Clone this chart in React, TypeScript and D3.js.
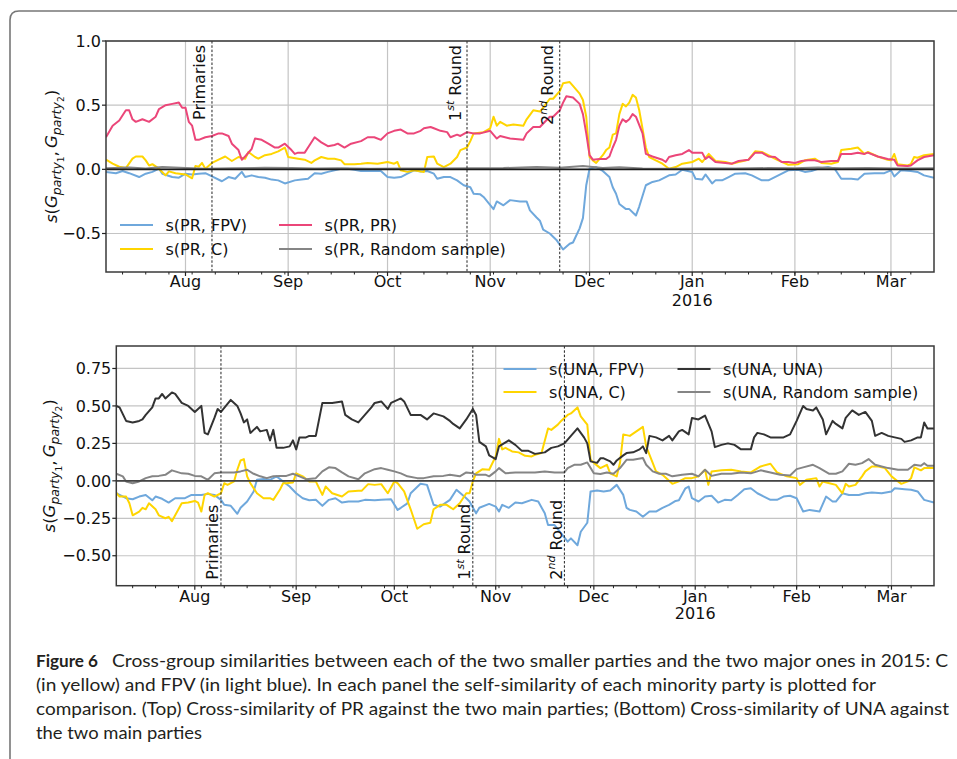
import React, { useEffect, useRef } from 'react';
import * as d3 from 'd3';

type Pt = [number, number];

// days are counted from START
const START = new Date(2015, 6, 8);
const END = new Date(2016, 2, 14);

const eventDates = [new Date(2015, 7, 9), new Date(2015, 9, 25), new Date(2015, 10, 22)];
const eventLabels = ['Primaries', '1', '2'];
const eventSups = ['', 'st', 'nd'];

const topLegend = ['s(PR, FPV)', 's(PR, C)', 's(PR, PR)', 's(PR, Random sample)'];
const botLegend = ['s(UNA, FPV)', 's(UNA, C)', 's(UNA, UNA)', 's(UNA, Random sample)'];
const topColors = ['#6fa8dc', '#ffd500', '#eb4679', '#858585'];
const botColors = ['#6fa8dc', '#ffd500', '#333333', '#858585'];

const topTicks = [-0.5, 0, 0.5, 1.0];
const botTicks = [-0.5, -0.25, 0, 0.25, 0.5, 0.75];

const topFpv: Pt[] = [[0,-0.02],[3,-0.03],[5,-0.013],[7,-0.03],[10,-0.06],[12,-0.034],[14,-0.02],[16,0.005],[17,-0.034],[20,-0.06],[22,-0.065],[24,-0.034],[26,-0.04],[28,-0.034],[30,-0.03],[32,-0.055],[35,-0.093],[37,-0.06],[39,-0.073],[41,-0.02],[42,-0.06],[44,-0.047],[46,-0.06],[48,-0.065],[50,-0.08],[52,-0.086],[54,-0.11],[57,-0.086],[59,-0.08],[61,-0.073],[63,-0.03],[65,-0.034],[67,-0.02],[69,-0.008],[71,0.005],[73,0.005],[75,-0.003],[77,-0.013],[79,-0.013],[83,-0.013],[85,-0.06],[87,-0.065],[89,-0.06],[91,-0.034],[93,-0.008],[95,-0.016],[97,-0.013],[99,-0.034],[100,-0.073],[102,-0.06],[104,-0.06],[106,-0.086],[108,-0.124],[110,-0.14],[111,-0.19],[113,-0.195],[114,-0.215],[117,-0.31],[118,-0.25],[120,-0.28],[122,-0.24],[125,-0.25],[127,-0.25],[128,-0.32],[130,-0.375],[131,-0.40],[132,-0.47],[134,-0.50],[136,-0.55],[138,-0.625],[140,-0.58],[141,-0.57],[143,-0.46],[144,-0.38],[145,-0.124],[146,0.005],[148,0.018],[150,-0.013],[152,-0.06],[153,-0.14],[154,-0.19],[155,-0.27],[157,-0.31],[158,-0.31],[160,-0.36],[161,-0.29],[163,-0.124],[165,-0.098],[167,-0.086],[170,-0.047],[172,-0.04],[174,-0.003],[177,-0.02],[178,-0.073],[180,-0.08],[181,-0.04],[183,-0.11],[184,-0.086],[186,-0.086],[188,-0.06],[190,-0.034],[193,-0.03],[195,-0.047],[198,-0.086],[200,-0.086],[203,-0.047],[206,-0.008],[209,-0.003],[211,-0.02],[213,-0.013],[215,0.005],[218,0.018],[220,0.005],[222,-0.073],[225,-0.073],[227,-0.08],[229,-0.034],[232,-0.03],[235,-0.03],[237,-0.008],[238,-0.055],[240,-0.008],[243,-0.013],[245,-0.02],[247,-0.047],[250,-0.065]];

const topC: Pt[] = [[0,0.075],[2,0.044],[4,0.02],[6,0.01],[8,0.083],[9,0.10],[11,0.10],[12,0.07],[13,0.03],[14,0.04],[16,0.005],[18,-0.047],[19,-0.016],[21,-0.03],[24,-0.04],[26,-0.07],[27,0.026],[28,0.02],[29,0.05],[30,0.005],[32,0.05],[34,0.075],[36,0.10],[38,0.065],[40,0.096],[42,0.083],[43,0.135],[45,0.096],[46,0.083],[48,0.11],[50,0.12],[52,0.14],[54,0.17],[55,0.096],[58,0.083],[60,0.075],[62,0.05],[63,0.07],[65,0.096],[67,0.083],[69,0.083],[71,0.07],[72,0.04],[75,0.04],[77,0.044],[79,0.05],[82,0.044],[85,0.057],[87,0.044],[88,0.057],[89,-0.008],[91,-0.02],[93,-0.008],[96,-0.02],[97,0.096],[99,0.10],[100,0.044],[102,0.018],[104,0.044],[106,0.096],[107,0.15],[109,0.17],[110,0.22],[111,0.28],[114,0.29],[116,0.32],[117,0.41],[118,0.34],[119,0.37],[121,0.34],[123,0.35],[126,0.34],[127,0.39],[129,0.46],[131,0.45],[132,0.48],[134,0.55],[135,0.55],[137,0.61],[138,0.67],[140,0.68],[141,0.65],[143,0.59],[144,0.54],[145,0.41],[146,0.096],[147,0.07],[148,0.05],[150,0.11],[151,0.15],[152,0.17],[153,0.27],[154,0.28],[155,0.43],[156,0.51],[157,0.49],[158,0.52],[159,0.58],[160,0.56],[161,0.46],[163,0.17],[164,0.096],[166,0.07],[168,0.044],[170,0.005],[172,0.018],[174,0.044],[177,0.057],[179,0.083],[180,0.057],[182,0.12],[184,0.065],[187,0.057],[189,0.044],[191,0.057],[194,0.075],[196,0.14],[198,0.135],[201,0.096],[203,0.07],[206,0.036],[209,0.04],[211,0.07],[214,0.083],[216,0.05],[219,0.044],[221,0.057],[222,0.15],[225,0.16],[227,0.17],[229,0.12],[230,0.135],[233,0.10],[236,0.075],[237,0.07],[238,0.12],[239,0.04],[242,0.03],[243,0.04],[244,0.096],[245,0.09],[247,0.11],[250,0.12]];

const topSelf: Pt[] = [[0,0.25],[2,0.34],[4,0.38],[6,0.46],[7,0.46],[8,0.39],[9,0.37],[11,0.39],[13,0.37],[15,0.41],[16,0.47],[18,0.50],[20,0.51],[22,0.52],[23,0.48],[24,0.48],[25,0.37],[26,0.34],[27,0.23],[28,0.23],[30,0.25],[32,0.26],[34,0.28],[35,0.28],[37,0.26],[38,0.20],[40,0.15],[41,0.075],[42,0.10],[44,0.16],[45,0.24],[47,0.23],[49,0.20],[51,0.17],[52,0.17],[54,0.20],[56,0.15],[57,0.12],[58,0.13],[60,0.13],[61,0.17],[63,0.25],[65,0.21],[67,0.18],[69,0.19],[70,0.20],[72,0.17],[74,0.20],[77,0.22],[79,0.25],[81,0.25],[83,0.23],[85,0.28],[87,0.30],[89,0.31],[91,0.28],[93,0.28],[95,0.30],[96,0.32],[98,0.33],[99,0.32],[101,0.30],[103,0.29],[104,0.25],[106,0.27],[107,0.26],[109,0.29],[111,0.28],[113,0.28],[116,0.30],[118,0.24],[119,0.26],[122,0.24],[126,0.23],[127,0.28],[129,0.33],[131,0.33],[134,0.41],[135,0.41],[137,0.46],[138,0.52],[139,0.57],[141,0.56],[143,0.51],[144,0.43],[145,0.28],[146,0.11],[147,0.075],[149,0.08],[151,0.08],[152,0.10],[153,0.17],[154,0.23],[155,0.34],[156,0.39],[157,0.37],[158,0.39],[159,0.43],[160,0.41],[162,0.28],[163,0.12],[165,0.10],[168,0.075],[169,0.057],[170,0.096],[172,0.11],[174,0.12],[176,0.15],[177,0.13],[180,0.13],[181,0.08],[182,0.10],[184,0.057],[187,0.05],[189,0.044],[191,0.065],[194,0.075],[196,0.13],[198,0.13],[200,0.10],[202,0.096],[204,0.057],[206,0.057],[208,0.05],[210,0.065],[212,0.07],[214,0.07],[216,0.057],[219,0.065],[221,0.065],[222,0.12],[225,0.12],[227,0.13],[229,0.12],[230,0.13],[233,0.10],[236,0.08],[238,0.075],[239,0.03],[242,0.026],[243,0.03],[245,0.07],[247,0.096],[250,0.11]];

const topRandom: Pt[] = [[0,0.008],[7,0.015],[12,0.006],[17,0.018],[24,0.01],[30,0.004],[38,0.008],[48,0.012],[56,0.01],[63,0.006],[70,0.008],[80,0.005],[90,0.007],[100,0.006],[110,0.008],[120,0.01],[130,0.018],[137,0.012],[144,0.026],[150,0.01],[155,0.016],[162,0.006],[170,0.004],[180,0.008],[190,0.006],[200,0.01],[208,0.008],[215,0.014],[222,0.008],[230,0.01],[240,0.006],[250,0.008]];

const botFpv: Pt[] = [[0,-0.083],[1,-0.094],[3,-0.116],[5,-0.123],[7,-0.105],[9,-0.094],[11,-0.13],[12,-0.105],[14,-0.12],[16,-0.145],[18,-0.116],[21,-0.116],[23,-0.094],[26,-0.094],[28,-0.087],[30,-0.094],[32,-0.127],[33,-0.16],[35,-0.167],[37,-0.22],[38,-0.18],[40,-0.138],[42,-0.071],[43,0.007],[45,0.013],[47,0.007],[49,0.03],[51,-0.004],[53,-0.038],[55,-0.083],[57,-0.116],[59,-0.13],[61,-0.127],[63,-0.167],[65,-0.127],[67,-0.116],[69,-0.145],[71,-0.138],[74,-0.138],[76,-0.127],[79,-0.13],[81,-0.127],[84,-0.123],[86,-0.194],[87,-0.18],[89,-0.15],[90,-0.083],[93,-0.02],[95,-0.027],[97,-0.16],[99,-0.172],[102,-0.127],[104,-0.06],[107,-0.116],[108,-0.138],[110,-0.217],[111,-0.18],[114,-0.154],[116,-0.172],[117,-0.205],[118,-0.16],[120,-0.18],[122,-0.145],[124,-0.15],[127,-0.127],[129,-0.138],[131,-0.217],[132,-0.295],[134,-0.295],[136,-0.35],[138,-0.406],[139,-0.384],[141,-0.43],[142,-0.34],[144,-0.28],[145,-0.071],[147,-0.065],[149,-0.071],[151,-0.065],[153,-0.027],[155,-0.094],[156,-0.18],[157,-0.194],[159,-0.205],[161,-0.24],[163,-0.205],[165,-0.205],[167,-0.18],[169,-0.16],[171,-0.134],[172,-0.13],[174,-0.05],[175,-0.038],[176,-0.116],[178,-0.138],[180,-0.105],[182,-0.10],[184,-0.145],[186,-0.127],[188,-0.13],[190,-0.094],[192,-0.056],[194,-0.05],[196,-0.083],[198,-0.105],[200,-0.127],[202,-0.127],[204,-0.105],[206,-0.10],[208,-0.116],[210,-0.205],[212,-0.194],[215,-0.205],[217,-0.105],[219,-0.138],[220,-0.138],[222,-0.083],[224,-0.094],[227,-0.094],[229,-0.083],[231,-0.078],[234,-0.083],[237,-0.071],[238,-0.05],[241,-0.056],[243,-0.06],[245,-0.071],[247,-0.127],[250,-0.145]];

const botC: Pt[] = [[0,-0.08],[1,-0.105],[3,-0.105],[4,-0.15],[5,-0.23],[7,-0.205],[8,-0.18],[9,-0.19],[10,-0.15],[12,-0.19],[13,-0.23],[15,-0.25],[16,-0.24],[17,-0.27],[18,-0.23],[20,-0.15],[22,-0.145],[24,-0.134],[25,-0.145],[26,-0.205],[27,-0.094],[28,-0.083],[30,-0.105],[32,-0.083],[33,-0.016],[34,-0.027],[36,-0.004],[37,0.074],[38,0.136],[39,0.145],[40,0.03],[41,-0.016],[43,-0.083],[45,-0.116],[47,-0.116],[48,-0.127],[50,-0.06],[51,-0.016],[52,-0.016],[54,-0.011],[55,0.05],[57,0.03],[59,-0.004],[61,-0.004],[63,-0.094],[64,-0.038],[66,-0.083],[69,-0.105],[71,-0.071],[74,-0.067],[75,-0.067],[77,-0.022],[79,-0.027],[81,-0.022],[83,-0.083],[85,-0.004],[86,-0.016],[88,-0.071],[90,-0.19],[92,-0.32],[94,-0.29],[96,-0.28],[97,-0.19],[99,-0.16],[101,-0.16],[103,-0.19],[105,-0.15],[107,-0.083],[108,-0.083],[109,-0.004],[110,0.05],[112,0.078],[114,0.074],[116,0.163],[117,0.28],[118,0.21],[119,0.22],[121,0.196],[123,0.19],[125,0.167],[127,0.163],[128,0.174],[130,0.185],[132,0.35],[133,0.34],[135,0.375],[136,0.40],[138,0.44],[139,0.45],[141,0.49],[142,0.43],[144,0.375],[145,0.14],[146,0.12],[148,0.085],[150,0.107],[151,0.05],[153,0.03],[154,0.12],[155,0.31],[157,0.30],[159,0.33],[161,0.36],[162,0.23],[164,0.12],[165,0.063],[167,0.04],[170,-0.02],[172,-0.004],[174,0.018],[176,0.018],[178,0.03],[180,0.074],[181,-0.027],[182,0.063],[185,0.07],[188,0.074],[191,0.063],[194,0.056],[197,0.096],[200,0.114],[202,0.056],[205,0.03],[208,0.018],[209,-0.027],[211,0.007],[214,0.018],[215,-0.038],[216,-0.004],[218,-0.016],[220,-0.027],[222,-0.083],[223,-0.02],[224,-0.038],[226,-0.027],[228,0.03],[229,0.063],[231,0.096],[233,0.096],[235,0.085],[237,0.03],[239,-0.004],[240,-0.02],[242,-0.004],[243,0.018],[244,0.09],[246,0.07],[247,0.085],[250,0.085]];

const botSelf: Pt[] = [[0,0.50],[1,0.49],[3,0.40],[5,0.39],[7,0.40],[8,0.41],[9,0.44],[11,0.49],[12,0.55],[13,0.55],[14,0.58],[15,0.55],[17,0.59],[18,0.58],[20,0.52],[22,0.50],[24,0.46],[26,0.50],[27,0.32],[28,0.31],[30,0.42],[31,0.48],[32,0.46],[35,0.54],[37,0.50],[38,0.45],[39,0.39],[40,0.41],[41,0.32],[43,0.36],[44,0.33],[46,0.34],[47,0.27],[48,0.34],[49,0.22],[51,0.22],[53,0.23],[54,0.27],[55,0.21],[56,0.29],[58,0.29],[59,0.30],[61,0.30],[63,0.52],[64,0.52],[66,0.52],[69,0.53],[70,0.44],[72,0.41],[74,0.39],[76,0.44],[78,0.49],[79,0.52],[81,0.53],[83,0.48],[84,0.52],[87,0.55],[88,0.53],[90,0.44],[93,0.44],[95,0.41],[97,0.45],[100,0.43],[102,0.40],[103,0.38],[105,0.35],[107,0.41],[109,0.48],[110,0.44],[111,0.26],[113,0.23],[114,0.17],[116,0.145],[117,0.23],[120,0.27],[122,0.24],[124,0.20],[126,0.20],[128,0.18],[131,0.19],[133,0.22],[135,0.23],[137,0.25],[139,0.30],[141,0.35],[143,0.29],[144,0.25],[145,0.13],[147,0.12],[148,0.15],[149,0.15],[151,0.13],[152,0.107],[153,0.136],[155,0.17],[156,0.185],[158,0.19],[160,0.21],[161,0.23],[162,0.185],[163,0.30],[165,0.29],[167,0.27],[169,0.30],[170,0.27],[172,0.33],[173,0.34],[175,0.31],[176,0.42],[178,0.41],[180,0.435],[182,0.33],[183,0.225],[185,0.24],[187,0.25],[189,0.24],[191,0.21],[193,0.21],[194,0.21],[195,0.29],[196,0.32],[198,0.31],[200,0.29],[202,0.29],[204,0.29],[206,0.31],[208,0.40],[210,0.50],[211,0.48],[213,0.47],[214,0.49],[216,0.41],[217,0.31],[219,0.40],[220,0.38],[222,0.35],[223,0.42],[225,0.47],[227,0.44],[229,0.46],[231,0.40],[232,0.30],[234,0.32],[236,0.30],[238,0.29],[240,0.28],[241,0.26],[243,0.27],[245,0.29],[246,0.29],[247,0.39],[248,0.35],[250,0.35]];

const botRandom: Pt[] = [[0,0.047],[2,0.03],[3,-0.004],[5,-0.016],[7,-0.004],[9,0.018],[11,0.03],[13,0.033],[15,0.04],[17,0.07],[20,0.05],[22,0.047],[24,0.033],[26,0.03],[28,0.007],[30,0.05],[32,0.056],[34,0.056],[36,0.056],[38,0.063],[40,0.074],[42,0.047],[44,0.03],[46,0.018],[48,0.03],[50,0.033],[52,0.033],[54,0.047],[56,0.03],[58,0.011],[61,0.018],[63,0.063],[65,0.09],[67,0.085],[69,0.056],[71,0.03],[74,0.011],[76,0.05],[79,0.078],[81,0.085],[83,0.074],[85,0.063],[87,0.05],[89,0.03],[92,0.018],[94,0.018],[97,0.03],[100,0.033],[102,0.04],[105,0.03],[107,0.056],[109,0.05],[110,0.04],[113,0.04],[114,0.03],[116,0.063],[117,0.085],[119,0.05],[122,0.056],[125,0.056],[128,0.056],[131,0.063],[134,0.056],[137,0.056],[138,0.085],[140,0.107],[142,0.107],[144,0.123],[146,0.05],[148,0.045],[150,0.056],[152,0.047],[154,0.085],[156,0.14],[158,0.14],[161,0.152],[162,0.107],[164,0.063],[166,0.047],[168,0.047],[170,0.03],[173,0.04],[176,0.047],[178,0.03],[180,0.074],[182,0.033],[185,0.047],[188,0.047],[191,0.056],[194,0.05],[197,0.07],[200,0.056],[203,0.04],[206,0.036],[208,0.078],[210,0.09],[213,0.107],[215,0.085],[218,0.047],[220,0.047],[222,0.063],[224,0.114],[226,0.107],[228,0.118],[230,0.145],[232,0.107],[234,0.096],[236,0.085],[239,0.074],[242,0.074],[244,0.107],[246,0.10],[247,0.118],[248,0.10],[250,0.10]];

const captionLines = [
  'Cross-group similarities between each of the two smaller parties and the two major ones in 2015: C',
  '(in yellow) and FPV (in light blue). In each panel the self-similarity of each minority party is plotted for',
  'comparison. (Top) Cross-similarity of PR against the two main parties; (Bottom) Cross-similarity of UNA against',
  'the two main parties',
];

const FONT = 'DejaVu Sans, sans-serif';

function drawPanel(svg, cfg) {
  const { id, left, right, top, bottom, yDomain, ticks, fmt, series, colors, legend, zeroColor } = cfg;
  const x = d3.scaleTime().domain([START, END]).range([left, right]);
  const y = d3.scaleLinear().domain(yDomain).range([bottom, top]);
  const g = svg.append('g');

  g.append('clipPath').attr('id', id).append('rect')
    .attr('x', left).attr('y', top).attr('width', right - left).attr('height', bottom - top);

  const months = d3.timeMonth.range(START, END);

  // grid
  g.append('g').selectAll('line').data(months).join('line')
    .attr('x1', d => x(d)).attr('x2', d => x(d)).attr('y1', top).attr('y2', bottom)
    .attr('stroke', '#c4c4c4').attr('stroke-width', 1.2);
  g.append('g').selectAll('line').data(ticks).join('line')
    .attr('x1', left).attr('x2', right).attr('y1', d => y(d)).attr('y2', d => y(d))
    .attr('stroke', '#c4c4c4').attr('stroke-width', 1.2);

  const line = d3.line<Pt>()
    .x(d => x(d3.timeDay.offset(START, d[0])))
    .y(d => y(d[1]));

  const lines = g.append('g').attr('clip-path', `url(#${id})`);
  series.forEach((s, i) => {
    lines.append('path').attr('d', line(s)).attr('fill', 'none')
      .attr('stroke', colors[i]).attr('stroke-width', 2).attr('stroke-linejoin', 'round');
  });

  // zero line
  g.append('line').attr('x1', left).attr('x2', right).attr('y1', y(0)).attr('y2', y(0))
    .attr('stroke', zeroColor).attr('stroke-width', 1.8);

  // event lines
  g.append('g').selectAll('line').data(eventDates).join('line')
    .attr('x1', d => x(d)).attr('x2', d => x(d)).attr('y1', top).attr('y2', bottom)
    .attr('stroke', '#222').attr('stroke-width', 1).attr('stroke-dasharray', '2.5,1.8');

  eventDates.forEach((d, i) => {
    const tx = cfg.eventTop ? x(d) - 6.5 : x(d) - 2.5;
    const ty = cfg.eventTop ? top + 4 : bottom - 6;
    const t = g.append('text')
      .attr('transform', `translate(${tx},${ty}) rotate(-90)`)
      .attr('text-anchor', cfg.eventTop ? 'end' : 'start')
      .attr('font-family', FONT).attr('font-size', 16).attr('fill', '#111');
    t.append('tspan').text(eventLabels[i]);
    if (eventSups[i]) {
      t.append('tspan').attr('font-size', 11).attr('font-style', 'italic').attr('dy', -6.5).text(eventSups[i]);
      t.append('tspan').attr('dy', 6.5).text('\u00a0Round');
    }
  });

  // spines
  g.append('rect').attr('x', left).attr('y', top).attr('width', right - left).attr('height', bottom - top)
    .attr('fill', 'none').attr('stroke', '#3a3a3a').attr('stroke-width', 1.5);

  // y ticks
  g.append('g').selectAll('line').data(ticks).join('line')
    .attr('x1', left - 4).attr('x2', left).attr('y1', d => y(d)).attr('y2', d => y(d))
    .attr('stroke', '#222').attr('stroke-width', 1.2);
  g.append('g').selectAll('text').data(ticks).join('text')
    .attr('x', left - 5).attr('y', d => y(d)).attr('dy', '0.36em')
    .attr('text-anchor', 'end').attr('font-family', FONT).attr('font-size', 16).attr('fill', '#111')
    .text(d => fmt(d));

  // x ticks
  g.append('g').selectAll('line').data(d3.timeMonday.range(START, END)).join('line')
    .attr('x1', d => x(d)).attr('x2', d => x(d)).attr('y1', bottom).attr('y2', bottom + 2.5)
    .attr('stroke', '#222').attr('stroke-width', 1);
  g.append('g').selectAll('line').data(months).join('line')
    .attr('x1', d => x(d)).attr('x2', d => x(d)).attr('y1', bottom).attr('y2', bottom + 4)
    .attr('stroke', '#222').attr('stroke-width', 1.2);
  g.append('g').selectAll('text').data(months).join('text')
    .attr('x', d => x(d)).attr('y', bottom + cfg.xLabelGap)
    .attr('text-anchor', 'middle').attr('font-family', FONT).attr('font-size', 16).attr('fill', '#111')
    .text(d => d3.timeFormat('%b')(d));
  const jan = months.find(d => d.getMonth() === 0);
  g.append('text').attr('x', x(jan)).attr('y', bottom + cfg.xLabelGap + cfg.yearGap)
    .attr('text-anchor', 'middle').attr('font-family', FONT).attr('font-size', 16).attr('fill', '#111')
    .text(d3.timeFormat('%Y')(jan));

  // y label
  const lab = g.append('text')
    .attr('transform', `translate(${cfg.yLabelX},${(top + bottom) / 2}) rotate(-90)`)
    .attr('text-anchor', 'middle').attr('font-family', FONT).attr('font-size', 16.5).attr('fill', '#111');
  const part = (txt, opts = {}) => {
    const ts = lab.append('tspan').text(txt);
    Object.entries(opts).forEach(([k, v]) => ts.attr(k, v));
  };
  part('s', { 'font-style': 'italic' });
  part('(');
  part('G', { 'font-style': 'italic' });
  part('party', { 'font-style': 'italic', 'font-size': 12.5, dy: 4 });
  part('1', { 'font-size': 9, dy: 2.5 });
  part(',\u2009', { dy: -6.5 });
  part('G', { 'font-style': 'italic' });
  part('party', { 'font-style': 'italic', 'font-size': 12.5, dy: 4 });
  part('2', { 'font-size': 9, dy: 2.5 });
  part(')', { dy: -6.5 });

  // legend
  legend.forEach((name, i) => {
    const col = Math.floor(i / 2);
    const row = i % 2;
    const lx = cfg.legendX[col];
    const ly = cfg.legendY[row];
    g.append('line').attr('x1', lx).attr('x2', lx + 33).attr('y1', ly).attr('y2', ly)
      .attr('stroke', colors[i]).attr('stroke-width', 2);
    g.append('text').attr('x', lx + 45.5).attr('y', ly).attr('dy', '0.36em')
      .attr('font-family', FONT).attr('font-size', 16).attr('fill', '#111').text(name);
  });
}

export default function App() {
  const ref = useRef<SVGSVGElement>(null);

  useEffect(() => {
    const svg = d3.select(ref.current);
    svg.selectAll('*').remove();

    // figure frame
    svg.append('path').attr('d', 'M10,770 L10,20 Q10,11 19,11 L970,11')
      .attr('fill', 'none').attr('stroke', '#777').attr('stroke-width', 1.6);

    drawPanel(svg, {
      id: 'clipTop', left: 106, right: 934, top: 41, bottom: 272,
      yDomain: [-0.8, 1.0], ticks: topTicks, fmt: d3.format('.1f'),
      series: [topFpv, topC, topSelf, topRandom], colors: topColors, legend: topLegend,
      zeroColor: '#1a1a1a', eventTop: true, xLabelGap: 15, yearGap: 19, yLabelX: 57,
      legendX: [120, 279], legendY: [225, 249],
    });
    drawPanel(svg, {
      id: 'clipBot', left: 116.3, right: 934, top: 346, bottom: 585.7,
      yDomain: [-0.7, 0.9], ticks: botTicks, fmt: d3.format('.2f'),
      series: [botFpv, botC, botSelf, botRandom], colors: botColors, legend: botLegend,
      zeroColor: '#444', eventTop: false, xLabelGap: 16, yearGap: 17.5, yLabelX: 55,
      legendX: [503.5, 677.5], legendY: [369, 392],
    });

    // caption
    const cap = svg.append('g').attr('font-family', 'Lato, "Open Sans", sans-serif').attr('font-size', 17).attr('fill', '#231f20');
    cap.append('text').attr('x', 36).attr('y', 667).attr('font-weight', 'bold')
      .attr('textLength', 62).attr('lengthAdjust', 'spacingAndGlyphs').text('Figure 6');
    const capStarts = [112, 36, 36, 36];
    const capEnds = [948, 876, 949, 202];
    captionLines.forEach((l, i) => {
      cap.append('text').attr('x', capStarts[i]).attr('y', 667 + i * 24)
        .attr('textLength', capEnds[i] - capStarts[i]).attr('lengthAdjust', 'spacingAndGlyphs').text(l);
    });
  }, []);

  return (
    <svg ref={ref} width={957} height={759}
      style={{ position: 'absolute', left: 0, top: 0, background: '#fff' }} />
  );
}
